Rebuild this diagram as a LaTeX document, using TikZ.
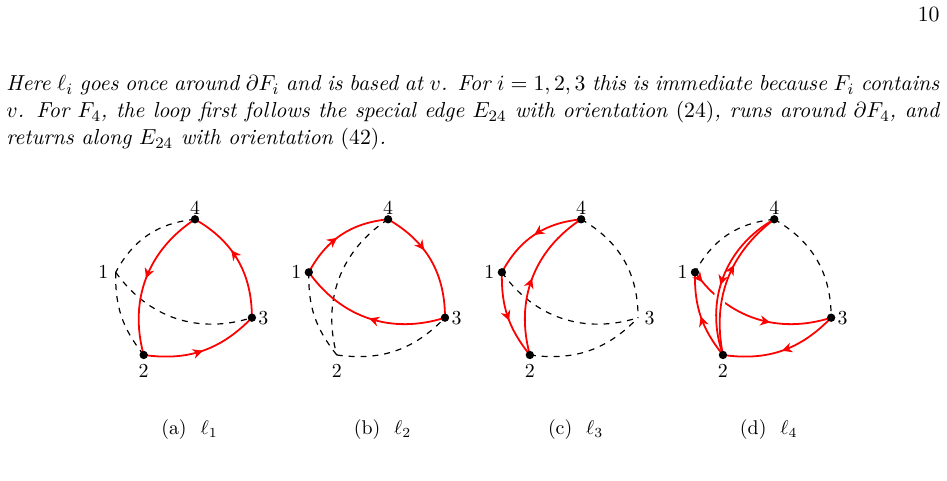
\documentclass[11pt,tikz,border=0pt]{standalone}
\usepackage{amsmath}
\usepackage{amssymb}
\usepackage{tikz}
\usetikzlibrary{
    positioning,
    arrows.meta,
    decorations.markings,
}

\begin{document}
\begin{tikzpicture}[
    >={Stealth[length=5pt, width=5pt, inset=1.6pt]},
    vlabel/.style={font=\small, inner sep=1pt},
    caption/.style={font=\small, anchor=base, inner sep=0pt},
    loopedge/.style={red, line width=0.9pt},
    backedge/.style={dashed, semithick},
    midarrow/.style={postaction={decorate},
        decoration={markings, mark=at position #1 with {\arrow{>}}}},
    twoarrows/.style={postaction={decorate},
        decoration={markings, mark=at position #1 with {\arrow{>}},
                    mark=at position 0.6 with {\arrow{>}}}},
]
    \useasboundingbox (0,0) rectangle (16.759,-8.512);

    % Page number and text
    \node[anchor=base east, inner sep=0pt] (pagenum) at (16.635,-0.384) {10};
    \node[anchor=base west, inner sep=0pt, text width=6.5in, align=justify, font=\itshape] (para) at (0.106,-1.610)
        {Here $\ell_i$ goes once around $\partial F_i$ and is based at $v$. For $i=1,2,3$ this is immediate because $F_i$ contains $v$. For $F_4$, the loop first follows the special edge $E_{24}$ with orientation $(24)$, runs around $\partial F_4$, and returns along $E_{24}$ with orientation $(42)$.};

    % (a) loop l_1
    \begin{scope}[shift={(3.451,-3.881)}]
        \coordinate (a4) at (0,0);
        \coordinate (a1) at (-1.403,-0.938);
        \coordinate (a3) at (1.007,-1.741);
        \coordinate (a2) at (-0.908,-2.401);

        \draw[backedge] (a4) to[bend right=28] (a1);
        \draw[backedge] (a1) to[bend right=20] (a2);
        \draw[backedge] (a1) to[bend right=36] (a3);
        \draw[loopedge, midarrow=0.5] (a4) to[bend right=36] (a2);
        \draw[loopedge, midarrow=0.5] (a2) to[bend right=27] (a3);
        \draw[loopedge, midarrow=0.6] (a3) to[bend right=30] (a4);

        \fill (a4) circle (2.1pt);
        \fill (a3) circle (2.1pt);
        \fill (a2) circle (2.1pt);

        \node[vlabel, above=1.3pt of a4] (a4l) {4};
        \node[vlabel, left=2.6pt of a1] (a1l) {1};
        \node[vlabel, right=2.1pt of a3] (a3l) {3};
        \node[vlabel, below=3.3pt of a2] (a2l) {2};

        \node[caption] (capa) at (-0.097,-3.80) {(a)\hspace{0.7em}$\ell_1$};
    \end{scope}

    % (b) loop l_2
    \begin{scope}[shift={(6.868,-3.881)}]
        \coordinate (b4) at (0,0);
        \coordinate (b1) at (-1.403,-0.938);
        \coordinate (b3) at (1.007,-1.741);
        \coordinate (b2) at (-0.908,-2.401);

        \draw[backedge] (b4) to[bend right=36] (b2);
        \draw[backedge] (b1) to[bend right=20] (b2);
        \draw[backedge] (b2) to[bend right=27] (b3);
        \draw[loopedge, midarrow=0.45] (b1) to[bend left=28] (b4);
        \draw[loopedge, midarrow=0.4] (b4) to[bend left=30] (b3);
        \draw[loopedge, midarrow=0.5] (b3) to[bend left=36] (b1);

        \fill (b4) circle (2.1pt);
        \fill (b1) circle (2.1pt);
        \fill (b3) circle (2.1pt);

        \node[vlabel, above=1.3pt of b4] (b4l) {4};
        \node[vlabel, left=2.6pt of b1] (b1l) {1};
        \node[vlabel, right=2.1pt of b3] (b3l) {3};
        \node[vlabel, below=3.3pt of b2] (b2l) {2};

        \node[caption] (capb) at (-0.097,-3.80) {(b)\hspace{0.7em}$\ell_2$};
    \end{scope}

    % (c) loop l_3
    \begin{scope}[shift={(10.285,-3.881)}]
        \coordinate (c4) at (0,0);
        \coordinate (c1) at (-1.403,-0.938);
        \coordinate (c3) at (1.007,-1.741);
        \coordinate (c2) at (-0.908,-2.401);

        \draw[backedge] (c4) to[bend left=30] (c3);
        \draw[backedge] (c1) to[bend right=36] (c3);
        \draw[backedge] (c2) to[bend right=27] (c3);
        \draw[loopedge, midarrow=0.5] (c4) to[bend right=28] (c1);
        \draw[loopedge, midarrow=0.55] (c1) to[bend right=20] (c2);
        \draw[loopedge, midarrow=0.5] (c2) to[bend left=36] (c4);

        \fill (c4) circle (2.1pt);
        \fill (c1) circle (2.1pt);
        \fill (c2) circle (2.1pt);

        \node[vlabel, above=1.3pt of c4] (c4l) {4};
        \node[vlabel, left=2.6pt of c1] (c1l) {1};
        \node[vlabel, right=2.1pt of c3] (c3l) {3};
        \node[vlabel, below=3.3pt of c2] (c2l) {2};

        \node[caption] (capc) at (-0.097,-3.80) {(c)\hspace{0.7em}$\ell_3$};
    \end{scope}

    % (d) loop l_4, along E_24 and back
    \begin{scope}[shift={(13.702,-3.881)}]
        \coordinate (d4) at (0,0);
        \coordinate (d1) at (-1.403,-0.938);
        \coordinate (d3) at (1.007,-1.741);
        \coordinate (d2) at (-0.908,-2.401);

        \draw[loopedge, twoarrows=0.08] (d1) to[bend right=36] (d3);
        \draw[white, line width=6pt] (d4) to[bend right=36] (d2);
        \draw[loopedge, midarrow=0.55] (d4) to[bend right=40] (d2);
        \draw[loopedge, midarrow=0.6] (d2) to[bend left=32] (d4);
        \draw[loopedge, midarrow=0.5] (d2) to[bend left=20] (d1);
        \draw[loopedge, midarrow=0.5] (d3) to[bend left=27] (d2);
        \draw[backedge] (d4) to[bend right=28] (d1);
        \draw[backedge] (d4) to[bend left=30] (d3);

        \fill (d4) circle (2.1pt);
        \fill (d1) circle (2.1pt);
        \fill (d3) circle (2.1pt);
        \fill (d2) circle (2.1pt);

        \node[vlabel, above=1.3pt of d4] (d4l) {4};
        \node[vlabel, left=2.6pt of d1] (d1l) {1};
        \node[vlabel, right=2.1pt of d3] (d3l) {3};
        \node[vlabel, below=3.3pt of d2] (d2l) {2};

        \node[caption] (capd) at (-0.097,-3.80) {(d)\hspace{0.7em}$\ell_4$};
    \end{scope}
\end{tikzpicture}
\end{document}
